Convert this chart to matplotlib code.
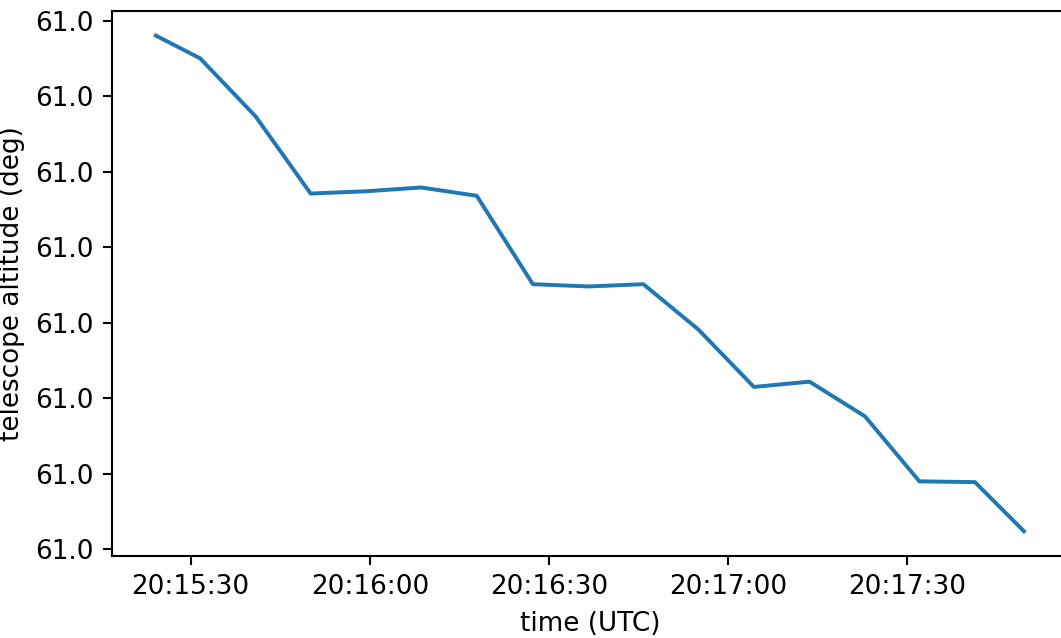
import matplotlib
matplotlib.use("Agg")
import matplotlib.pyplot as plt
import matplotlib.dates as mdates
from matplotlib.ticker import FormatStrFormatter, MultipleLocator
import pandas as pd

# sample times (UTC) and telescope altitude readings
times = ["20:15:24.2", "20:15:31.6", "20:15:40.9", "20:15:50.1", "20:15:59.4",
         "20:16:08.6", "20:16:17.9", "20:16:27.3", "20:16:36.6", "20:16:45.8",
         "20:16:55.0", "20:17:04.3", "20:17:13.6", "20:17:22.9", "20:17:32.0",
         "20:17:41.3", "20:17:49.5"]
altitude = [61.0000680, 61.0000650, 61.0000573, 61.0000471, 61.0000474,
            61.0000479, 61.0000468, 61.0000351, 61.0000348, 61.0000351,
            61.0000291, 61.0000215, 61.0000222, 61.0000176, 61.0000090,
            61.0000089, 61.0000024]

t = pd.to_datetime(["2023-03-14 " + s for s in times])

dpi = 189
fig = plt.figure(figsize=(1061 / dpi, 638 / dpi), dpi=dpi)
ax = fig.add_axes([0.106, 0.1285, 0.9, 0.8545])
ax.plot(t, altitude, color="#1f77b4", linewidth=1.5)

ax.xaxis.set_major_locator(mdates.SecondLocator(bysecond=[0, 30]))
ax.xaxis.set_major_formatter(mdates.DateFormatter("%H:%M:%S"))
ax.yaxis.set_major_locator(MultipleLocator(1e-5))
ax.yaxis.set_major_formatter(FormatStrFormatter("%.1f"))

ax.set_xlabel("time (UTC)")
ax.set_ylabel("telescope altitude (deg)")

fig.savefig("out.png", dpi=dpi)
